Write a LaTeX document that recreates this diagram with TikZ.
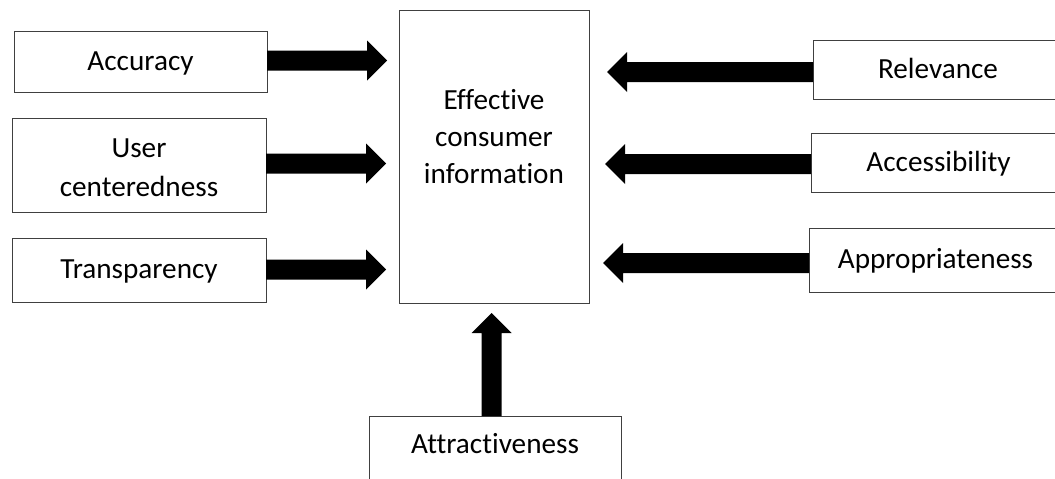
\documentclass[tikz,border=0pt]{standalone}
\usepackage{fontspec}
\setmainfont{Carlito}[Ligatures=NoCommon]
\usetikzlibrary{calc}

\tikzset{
  box/.style={draw=black!75, line width=1pt, inner sep=0pt, outer sep=0pt,
    align=center, font=\fontsize{29.2pt}{38pt}\selectfont,
    text height=17pt, text depth=0pt},
  bigarrow/.style={fill=black}
}

% Filled block arrow from #1 (tail) to #2 (tip)
\newcommand\blockarrow[2]{%
  \path (#2) coordinate (tipP) ($(#2)!20pt!(#1)$) coordinate (headP) (#1) coordinate (tailP);
  \fill[bigarrow] ($(tailP)!10pt!90:(tipP)$) -- ($(headP)!10pt!90:(tipP)$)
    -- ($(headP)!20pt!90:(tipP)$) -- (tipP) -- ($(headP)!20pt!-90:(tipP)$)
    -- ($(headP)!10pt!-90:(tipP)$) -- ($(tailP)!10pt!-90:(tipP)$) -- cycle;
}

\begin{document}
\begin{tikzpicture}[x=1pt, y=-1pt]
  \useasboundingbox (0,0) rectangle (1055,479);

  % central box
  \node[box, minimum width=190pt, minimum height=293pt, text height=53pt,
        font=\fontsize{29.2pt}{37pt}\selectfont]
    (eci) at (494,156.5) {Effective\\consumer\\information};

  % left factors
  \node[box, minimum width=253pt, minimum height=61pt] (acc) at (140.5,61.5) {Accuracy};
  \node[box, minimum width=254pt, minimum height=94pt, text height=62pt,
        font=\fontsize{29.2pt}{39pt}\selectfont] (usr) at (139,165) {User\\centeredness};
  \node[box, minimum width=254pt, minimum height=64pt] (tra) at (139,270) {Transparency};

  % right factors
  \node[box, minimum width=250pt, minimum height=59pt] (rel) at (938,69.5) {Relevance};
  \node[box, minimum width=255pt, minimum height=59pt] (acs) at (938.5,162.5) {Accessibility};
  \node[box, minimum width=253pt, minimum height=64pt] (app) at (935.5,260) {Appropriateness};

  % bottom factor
  \node[box, minimum width=252pt, minimum height=74pt, text depth=17pt] (att) at (495,453) {Attractiveness};

  % arrow end points
  \coordinate (accS) at ($(acc.east)+(0,-1)$);
  \coordinate (accT) at ($(eci.west|-acc.east)+(-12,-1)$);
  \coordinate (usrS) at ($(usr.east)+(0,-1.5)$);
  \coordinate (usrT) at ($(eci.west|-usr.east)+(-13,-1.5)$);
  \coordinate (traS) at ($(tra.east)+(0,-0.5)$);
  \coordinate (traT) at ($(eci.west|-tra.east)+(-13,-0.5)$);
  \coordinate (relS) at ($(rel.west)+(0,2.5)$);
  \coordinate (relT) at ($(eci.east|-rel.west)+(18,2.5)$);
  \coordinate (acsS) at ($(acs.west)+(0,1.5)$);
  \coordinate (acsT) at ($(eci.east|-acs.west)+(16,1.5)$);
  \coordinate (appS) at ($(app.west)+(0,3)$);
  \coordinate (appT) at ($(eci.east|-app.west)+(14,3)$);
  \coordinate (attS) at ($(att.north)+(-3.5,0)$);
  \coordinate (attT) at ($(eci.south-|attS)+(0,10)$);

  \blockarrow{accS}{accT}
  \blockarrow{usrS}{usrT}
  \blockarrow{traS}{traT}
  \blockarrow{relS}{relT}
  \blockarrow{acsS}{acsT}
  \blockarrow{appS}{appT}
  \blockarrow{attS}{attT}
\end{tikzpicture}
\end{document}
